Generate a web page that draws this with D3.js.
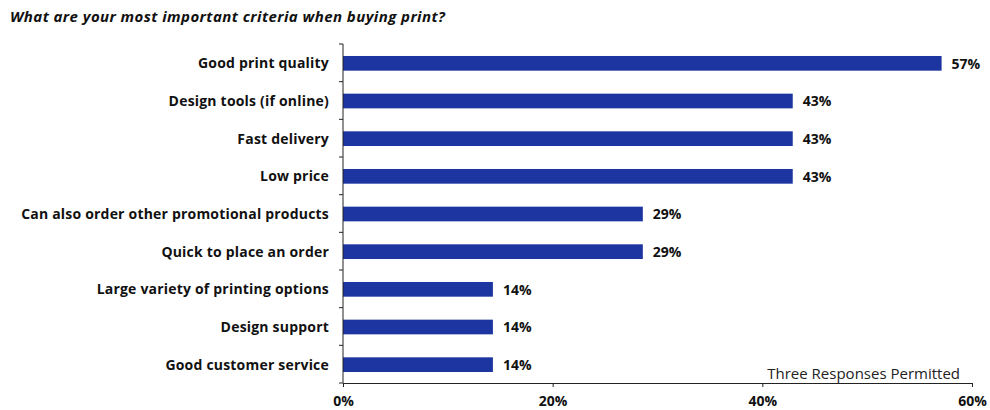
<html>
<head>
<meta charset="utf-8">
<script src="https://d3js.org/d3.v7.min.js"></script>
<style>
  body { margin: 0; background: #fff; }
  text { font-family: "Century Gothic", "Open Sans", "DejaVu Sans", sans-serif; }
</style>
</head>
<body>
<script>
var width = 990, height = 410;
var margin = {top: 44, right: 18, bottom: 27, left: 343};

var categories = ["Good print quality", "Design tools (if online)", "Fast delivery", "Low price",
  "Can also order other promotional products", "Quick to place an order",
  "Large variety of printing options", "Design support", "Good customer service"];
var values = [57.1, 42.9, 42.9, 42.9, 28.6, 28.6, 14.3, 14.3, 14.3];
var xTicks = [0, 20, 40, 60];
var title = "What are your most important criteria when buying print?";
var note = "Three Responses Permitted";

var svg = d3.select("body").append("svg")
  .attr("width", width).attr("height", height);

var x = d3.scaleLinear().domain([0, 60]).range([343, 972]);
var y = d3.scaleBand().domain(categories).range([margin.top, height - margin.bottom]).paddingInner(0.61).paddingOuter(0.305);

svg.append("text")
  .attr("x", 10).attr("y", 22)
  .style("font-size", "15px").style("font-weight", "bold").style("font-style", "italic")
  .style("letter-spacing", "0.42px")
  .attr("fill", "#111")
  .text(title);

svg.selectAll("rect.bar").data(values).enter().append("rect")
  .attr("class", "bar")
  .attr("x", x(0))
  .attr("y", function(d, i) { return y(categories[i]) + 0.5; })
  .attr("width", function(d) { return x(d) - x(0); })
  .attr("height", y.bandwidth())
  .attr("fill", "#1c35a0");

svg.selectAll("text.val").data(values).enter().append("text")
  .attr("class", "val")
  .attr("x", function(d) { return x(d) + 10; })
  .attr("y", function(d, i) { return y(categories[i]) + y.bandwidth() / 2 + 1; })
  .attr("dy", "0.35em")
  .style("font-size", "14px").style("font-weight", "bold")
  .attr("fill", "#111")
  .text(function(d) { return Math.round(d) + "%"; });

var yAxis = d3.axisLeft(y).tickSize(0).tickPadding(14);
var yg = svg.append("g").attr("transform", "translate(" + x(0) + ",1)").call(yAxis);
yg.select(".domain").remove();
yg.selectAll("text").style("font-size", "14px").style("font-weight", "bold")
  .style("letter-spacing", "0.2px").attr("fill", "#111");

// y-axis line with ticks between categories
var yBounds = d3.range(categories.length + 1).map(function(i) { return y.range()[0] + i * y.step(); });
svg.append("line").attr("x1", x(0)).attr("x2", x(0))
  .attr("y1", yBounds[0]).attr("y2", yBounds[yBounds.length - 1])
  .attr("stroke", "#222");
svg.selectAll("line.ytick").data(yBounds).enter().append("line")
  .attr("class", "ytick")
  .attr("x1", x(0) - 4).attr("x2", x(0))
  .attr("y1", function(d) { return d; }).attr("y2", function(d) { return d; })
  .attr("stroke", "#222");

var xAxis = d3.axisBottom(x).tickValues(xTicks).tickSize(4).tickSizeOuter(0).tickPadding(9)
  .tickFormat(function(d) { return d + "%"; });
var xg = svg.append("g").attr("transform", "translate(0," + (height - margin.bottom) + ")").call(xAxis);
xg.select(".domain").attr("stroke", "#222");
xg.selectAll("line").attr("stroke", "#222");
xg.selectAll("text").style("font-size", "14px").style("font-weight", "bold").attr("fill", "#111");

svg.append("text")
  .attr("x", 960).attr("y", 379)
  .attr("text-anchor", "end")
  .style("font-size", "15px")
  .attr("fill", "#222")
  .text(note);
</script>
</body>
</html>
